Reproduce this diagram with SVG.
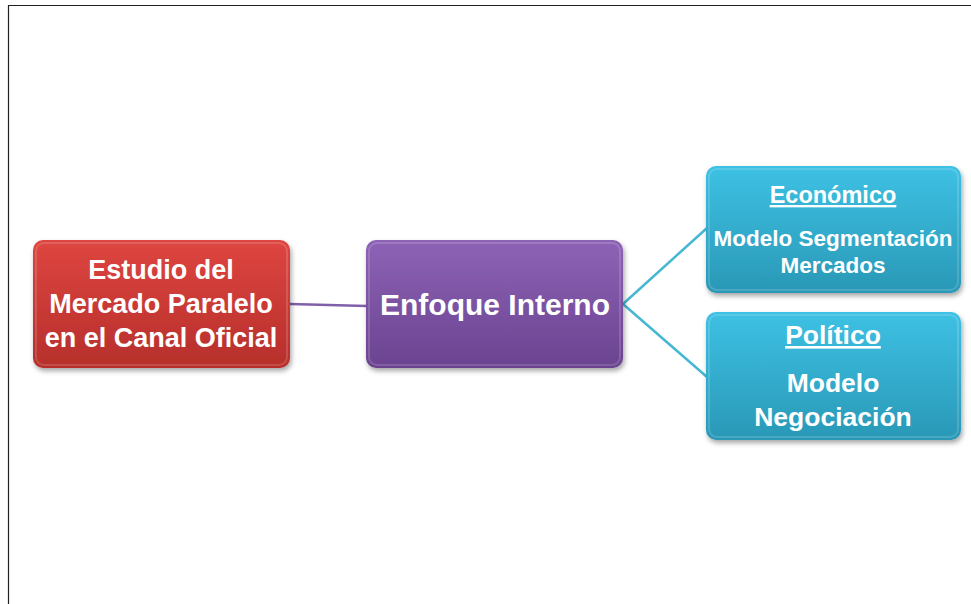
<svg xmlns="http://www.w3.org/2000/svg" width="971" height="604" viewBox="0 0 971 604">
<defs>
<linearGradient id="gRed" x1="0" y1="0" x2="0" y2="1"><stop offset="0" stop-color="#de4540"/><stop offset="1" stop-color="#b62f2b"/></linearGradient>
<linearGradient id="gPur" x1="0" y1="0" x2="0" y2="1"><stop offset="0" stop-color="#8d63b6"/><stop offset="1" stop-color="#6b4390"/></linearGradient>
<linearGradient id="gTeal" x1="0" y1="0" x2="0" y2="1"><stop offset="0" stop-color="#3dc1e4"/><stop offset="1" stop-color="#2a98b6"/></linearGradient>
<filter id="sh" x="-10%" y="-10%" width="125%" height="130%"><feDropShadow dx="1.5" dy="3" stdDeviation="2.5" flood-color="#000" flood-opacity="0.35"/></filter>
<style>
.t{font-family:"Liberation Sans",Arial,sans-serif;font-weight:bold;fill:#fff;text-anchor:middle}
.hl{fill:none;stroke:#ffffff;stroke-opacity:0.15;stroke-width:2}
</style>
</defs>
<rect width="971" height="604" fill="#fff"/>
<path d="M8.5 604 V5.5 H971" fill="none" stroke="#222" stroke-width="1.2"/>
<g id="connectors" fill="none" stroke-width="2.5">
<line x1="290" y1="304" x2="367" y2="306" stroke="#8060a8"/>
<line x1="623" y1="304" x2="707" y2="228" stroke="#46b7d2"/>
<line x1="623" y1="304" x2="707" y2="377" stroke="#46b7d2"/>
</g>
<g id="n-estudio">
<rect x="33" y="240" width="257" height="128" rx="10" fill="url(#gRed)" filter="url(#sh)"/>
<rect x="36" y="243" width="251" height="122" rx="8" class="hl"/>
<text class="t" font-size="27"><tspan x="161" y="279">Estudio del</tspan><tspan x="161" y="313">Mercado Paralelo</tspan><tspan x="161" y="347">en el Canal Oficial</tspan></text>
</g>
<g id="n-enfoque">
<rect x="366" y="240" width="257" height="128" rx="10" fill="url(#gPur)" filter="url(#sh)"/>
<rect x="369" y="243" width="251" height="122" rx="8" class="hl"/>
<text class="t" font-size="30" x="495" y="315">Enfoque Interno</text>
</g>
<g id="n-economico">
<rect x="706" y="166" width="255" height="127" rx="10" fill="url(#gTeal)" filter="url(#sh)"/>
<rect x="709" y="169" width="249" height="121" rx="8" class="hl"/>
<text class="t" font-size="23.5" x="833" y="203" text-decoration="underline">Económico</text>
<text class="t" font-size="22.5"><tspan x="833" y="246">Modelo Segmentación</tspan><tspan x="833" y="273">Mercados</tspan></text>
</g>
<g id="n-politico">
<rect x="706" y="312" width="255" height="128" rx="10" fill="url(#gTeal)" filter="url(#sh)"/>
<rect x="709" y="315" width="249" height="122" rx="8" class="hl"/>
<text class="t" font-size="26.5" x="833" y="344" text-decoration="underline">Político</text>
<text class="t" font-size="26.5"><tspan x="833" y="392">Modelo</tspan><tspan x="833" y="426">Negociación</tspan></text>
</g>
</svg>
